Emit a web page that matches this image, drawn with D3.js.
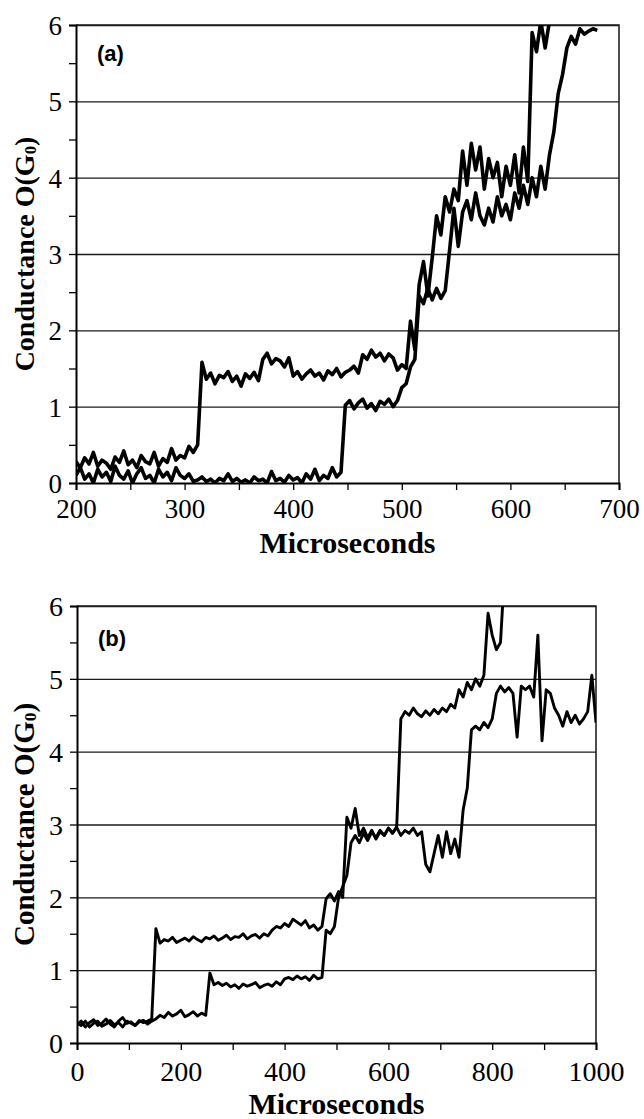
<!DOCTYPE html>
<html>
<head>
<meta charset="utf-8">
<script src="https://cdn.jsdelivr.net/npm/d3@7"></script>
<style>
    body { margin: 0; background: #fff; }
    svg { display: block; }
</style>
</head>
<body>
<div id="chart"></div>
<script>
// panel (a): one sample every 4 us starting at 200 us
const aStart = 200, aStep = 4;
const aTrace1 = [
    0.28, 0.20, 0.33, 0.25, 0.40, 0.22, 0.30, 0.26, 0.18, 0.34,
    0.27, 0.42, 0.24, 0.30, 0.20, 0.36, 0.28, 0.25, 0.40, 0.22,
    0.32, 0.27, 0.45, 0.30, 0.36, 0.33, 0.48, 0.40, 0.50, 1.58,
    1.36, 1.44, 1.30, 1.41, 1.38, 1.46, 1.33, 1.40, 1.27, 1.43,
    1.37, 1.45, 1.34, 1.62, 1.70, 1.56, 1.63, 1.60, 1.52, 1.64,
    1.40, 1.46, 1.36, 1.43, 1.48, 1.40, 1.44, 1.35, 1.47, 1.42,
    1.50, 1.39, 1.45, 1.48, 1.53, 1.44, 1.68, 1.62, 1.74, 1.65,
    1.70, 1.60, 1.69, 1.64, 1.48, 1.55, 1.50, 2.12, 1.75, 2.60,
    2.90, 2.45, 2.95, 3.50, 3.25, 3.75, 3.55, 3.85, 3.70, 4.35,
    3.90, 4.45, 4.10, 4.40, 3.85, 4.25, 4.00, 4.20, 3.75, 4.15,
    3.90, 4.30, 3.80, 4.40, 3.95, 5.90, 5.65, 6.05, 5.70, 6.05,
    6.40
];
const aTrace2 = [
    0.10, 0.20, 0.05, 0.12, 0.00, 0.18, 0.08, 0.14, 0.02, 0.22,
    0.10, 0.05, 0.16, 0.00, 0.12, 0.20, 0.06, 0.10, 0.00, 0.18,
    0.08, 0.14, 0.03, 0.20, 0.10, 0.06, 0.12, 0.02, 0.04, 0.08,
    0.02, 0.05, 0.00, 0.06, 0.03, 0.12, 0.02, 0.06, 0.01, 0.04,
    0.00, 0.08, 0.03, 0.05, 0.00, 0.15, 0.03, 0.06, 0.01, 0.10,
    0.04, 0.07, 0.00, 0.12, 0.05, 0.18, 0.03, 0.10, 0.06, 0.20,
    0.08, 0.14, 1.02, 1.08, 0.97, 1.05, 1.10, 0.98, 1.04, 0.95,
    1.07, 1.03, 1.10, 1.00, 1.08, 1.25, 1.30, 1.52, 1.62, 2.45,
    2.35, 2.55, 2.40, 2.55, 2.42, 2.52, 3.05, 3.60, 3.10, 3.55,
    3.70, 3.45, 3.80, 3.50, 3.38, 3.60, 3.42, 3.75, 3.50, 3.65,
    3.45, 3.80, 3.60, 3.90, 3.65, 4.00, 3.75, 4.15, 3.85, 4.30,
    4.60, 5.10, 5.35, 5.70, 5.85, 5.75, 5.95, 5.88, 5.92, 5.95,
    5.93
];

// panel (b): one sample every 8 us starting at 0 us
const bStart = 0, bStep = 8;
const bTrace1 = [
    0.25, 0.30, 0.22, 0.28, 0.32, 0.24, 0.27, 0.33, 0.26, 0.22,
    0.30, 0.35, 0.27, 0.29, 0.24, 0.31, 0.28, 0.30, 0.33, 1.57,
    1.37, 1.42, 1.40, 1.45, 1.38, 1.41, 1.44, 1.40, 1.46, 1.42,
    1.39, 1.45, 1.43, 1.47, 1.41, 1.44, 1.48, 1.42, 1.46, 1.45,
    1.50, 1.43, 1.47, 1.49, 1.44, 1.50, 1.47, 1.55, 1.60, 1.58,
    1.64, 1.60, 1.70, 1.66, 1.62, 1.68, 1.58, 1.62, 1.55, 1.60,
    1.98, 2.05, 1.95, 2.08, 2.00, 3.10, 2.95, 3.22, 2.85, 2.95,
    2.82, 2.92, 2.80, 2.90, 2.85, 2.95, 2.88, 2.97, 4.45, 4.55,
    4.50, 4.60, 4.52, 4.48, 4.56, 4.50, 4.58, 4.52, 4.60, 4.55,
    4.65, 4.60, 4.85, 4.75, 4.95, 4.85, 5.00, 4.90, 5.05, 5.90,
    5.60, 5.40, 5.50, 6.50
];
const bTrace2 = [
    0.28, 0.24, 0.30, 0.22, 0.27, 0.30, 0.23, 0.26, 0.31, 0.25,
    0.28, 0.22, 0.30, 0.27, 0.24, 0.29, 0.31, 0.26, 0.30, 0.33,
    0.38, 0.35, 0.42, 0.37, 0.40, 0.45, 0.36, 0.39, 0.43, 0.37,
    0.41, 0.38, 0.96, 0.80, 0.83, 0.79, 0.82, 0.77, 0.80, 0.75,
    0.81, 0.78, 0.80, 0.83, 0.76, 0.79, 0.81, 0.78, 0.84, 0.80,
    0.88, 0.90, 0.87, 0.92, 0.88, 0.91, 0.86, 0.93, 0.88, 0.90,
    1.55, 1.50, 1.60, 2.00, 2.15, 2.30, 2.75, 2.85, 2.75, 2.88,
    2.78, 2.90, 2.82, 2.92, 2.85, 2.95, 2.88, 2.96, 2.85, 2.92,
    2.88, 2.95, 2.85, 2.90, 2.45, 2.35, 2.60, 2.85, 2.55, 2.90,
    2.60, 2.80, 2.55, 3.20, 3.50, 4.30, 4.35, 4.30, 4.40, 4.33,
    4.45, 4.80, 4.90, 4.82, 4.88, 4.80, 4.20, 4.90, 4.85, 4.90,
    4.75, 5.60, 4.15, 4.85, 4.80, 4.60, 4.50, 4.35, 4.55, 4.40,
    4.50, 4.38, 4.45, 4.55, 5.05, 4.40
];

const yTicks = [0, 1, 2, 3, 4, 5, 6];
const yMinor = [0.5, 1.5, 2.5, 3.5, 4.5, 5.5];
const aXTicks = [200, 300, 400, 500, 600, 700];
const aXMinor = [250, 350, 450, 550, 650];
const bXTicks = [0, 200, 400, 600, 800, 1000];
const bXMinor = [100, 300, 500, 700, 900];

document.addEventListener('DOMContentLoaded', function () {
    const svg = d3.select('#chart').append('svg')
        .attr('width', 644)
        .attr('height', 1119);

    drawPanel(svg, {
        id: 'a', letter: '(a)',
        left: 76, top: 25, right: 619, bottom: 483,
        xDomain: [200, 700], xTicks: aXTicks, xMinor: aXMinor,
        start: aStart, step: aStep, traces: [aTrace1, aTrace2], strokeW: 3.6,
        tickSize: 27, titleSize: 28, xTitleSize: 30,
        xLabelY: 35, xTitleY: 70, letterY: 36
    });

    drawPanel(svg, {
        id: 'b', letter: '(b)',
        left: 77, top: 606, right: 596, bottom: 1043,
        xDomain: [0, 1000], xTicks: bXTicks, xMinor: bXMinor,
        start: bStart, step: bStep, traces: [bTrace1, bTrace2], strokeW: 2.9,
        tickSize: 28, titleSize: 29, xTitleSize: 30,
        xLabelY: 38, xTitleY: 71, letterY: 40
    });

    function drawPanel(svg, cfg) {
        const w = cfg.right - cfg.left, h = cfg.bottom - cfg.top;
        const g = svg.append('g').attr('transform', `translate(${cfg.left},${cfg.top})`);

        const x = d3.scaleLinear().domain(cfg.xDomain).range([0, w]);
        const y = d3.scaleLinear().domain([0, 6]).range([h, 0]);

        // horizontal grid lines
        g.append('g')
            .call(d3.axisLeft(y).tickValues(yTicks.slice(1)).tickSize(-w).tickFormat(''))
            .call(s => s.select('.domain').remove())
            .selectAll('line').attr('stroke', '#1a1a1a').attr('stroke-width', 1.3);

        // frame: top and right
        g.append('path')
            .attr('d', `M0,0H${w}V${h}`)
            .attr('fill', 'none').attr('stroke', '#222').attr('stroke-width', 1.6);

        // traces
        g.append('clipPath').attr('id', 'clip-' + cfg.id)
            .append('rect').attr('width', w).attr('height', h);

        const line = d3.line()
            .x(d => x(d[0]))
            .y(d => y(d[1]));

        cfg.traces.forEach(vals => {
            const pts = vals.map((v, i) => [cfg.start + i * cfg.step, v]);
            g.append('path')
                .datum(pts)
                .attr('clip-path', `url(#clip-${cfg.id})`)
                .attr('fill', 'none')
                .attr('stroke', '#000')
                .attr('stroke-width', cfg.strokeW)
                .attr('stroke-linejoin', 'round')
                .attr('d', line);
        });

        // y axis
        const yAxis = g.append('g')
            .call(d3.axisLeft(y).tickValues(yTicks.concat(yMinor)).tickSize(7)
                .tickFormat(d => Number.isInteger(d) ? d : ''));
        yAxis.select('.domain').attr('stroke', '#000').attr('stroke-width', 2);
        yAxis.selectAll('line').attr('stroke', '#000').attr('stroke-width', 1.3);
        yAxis.selectAll('text')
            .attr('x', -14).attr('dy', '0.35em')
            .style('font-family', '"Liberation Serif", "Times New Roman", serif')
            .style('font-size', cfg.tickSize + 'px')
            .attr('fill', '#000');

        // x axis
        const xAxis = g.append('g')
            .attr('transform', `translate(0,${h})`)
            .call(d3.axisBottom(x).tickValues(cfg.xTicks.concat(cfg.xMinor)).tickSize(7)
                .tickFormat(d => cfg.xTicks.includes(d) ? d : ''));
        xAxis.select('.domain').attr('stroke', '#000').attr('stroke-width', 2);
        xAxis.selectAll('line').attr('stroke', '#000').attr('stroke-width', 1.3);
        xAxis.selectAll('text')
            .attr('y', cfg.xLabelY).attr('dy', null)
            .style('font-family', '"Liberation Serif", "Times New Roman", serif')
            .style('font-size', cfg.tickSize + 'px')
            .attr('fill', '#000');

        // axis titles
        g.append('text')
            .attr('x', w / 2).attr('y', h + cfg.xTitleY)
            .attr('text-anchor', 'middle')
            .style('font-family', '"Liberation Serif", "Times New Roman", serif')
            .style('font-weight', 'bold')
            .style('font-size', cfg.xTitleSize + 'px')
            .text('Microseconds');

        const yTitle = g.append('text')
            .attr('transform', `translate(${34 - cfg.left},${h / 2}) rotate(-90)`)
            .attr('text-anchor', 'middle')
            .style('font-family', '"Liberation Serif", "Times New Roman", serif')
            .style('font-weight', 'bold')
            .style('font-size', cfg.titleSize + 'px');
        yTitle.append('tspan').text('Conductance O(G');
        yTitle.append('tspan').attr('font-size', '60%').attr('dy', '0.1em').text('0');
        yTitle.append('tspan').attr('dy', '-0.06em').text(')');

        // panel letter
        g.append('text')
            .attr('x', 21).attr('y', cfg.letterY)
            .style('font-family', '"Liberation Sans", Arial, sans-serif')
            .style('font-weight', 'bold')
            .style('font-size', '22px')
            .text(cfg.letter);
    }
});
</script>
</body>
</html>
